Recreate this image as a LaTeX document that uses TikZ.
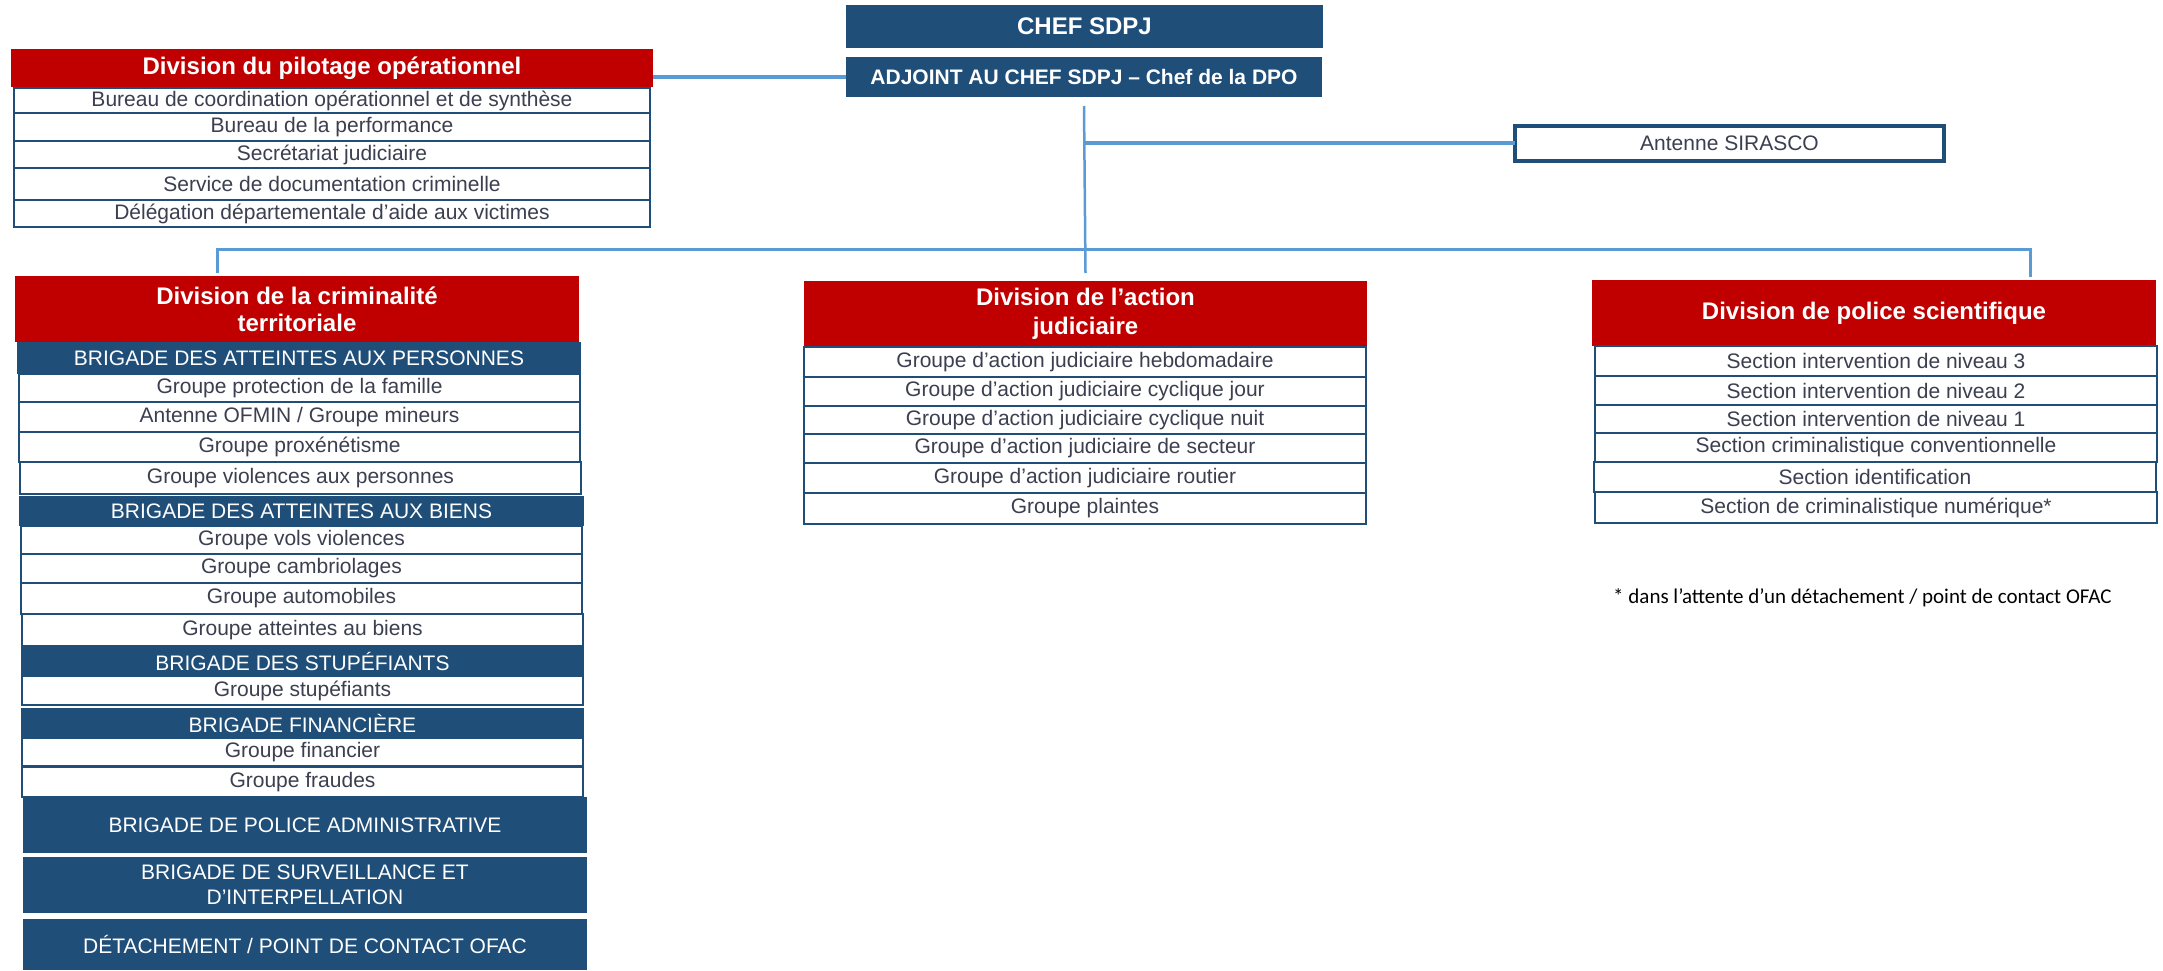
\documentclass[tikz,border=0pt]{standalone}
\usepackage{fontspec}
\setmainfont{Liberation Sans}
\newfontfamily\notefont{Carlito}
\usepackage{tikz}
\usetikzlibrary{positioning}

\definecolor{dpred}{RGB}{192,0,0}
\definecolor{dpblue}{RGB}{31,78,121}
\definecolor{linkblue}{RGB}{91,155,213}
\definecolor{rowtext}{RGB}{59,63,79}

\tikzset{
  box/.style={anchor=north west, inner sep=0pt, outer sep=0pt, align=center},
  redhead/.style={box, fill=dpred, text=white, font=\fontsize{24}{27}\selectfont\bfseries},
  bluehead/.style={box, fill=dpblue, text=white, font=\fontsize{21}{25}\selectfont},
  rowbox/.style={box, draw=dpblue, line width=1.8pt, fill=white, text=rowtext, font=\fontsize{21}{25}\selectfont},
  link/.style={draw=linkblue, line width=3pt},
  dctrow/.style={rowbox, minimum width=561pt},
  dajrow/.style={rowbox, minimum width=562pt},
  dpsrow/.style={rowbox, minimum width=562pt},
  dporow/.style={rowbox, minimum width=636pt}
}

\begin{document}
\begin{tikzpicture}[x=1pt,y=-1pt]
\useasboundingbox (0,0) rectangle (2163,971);

% direction
\node[bluehead, minimum width=477pt, minimum height=43pt, font=\fontsize{24}{27}\selectfont\bfseries] (chef) at (846,5) {CHEF SDPJ};
\node[bluehead, minimum width=476pt, minimum height=40pt, font=\fontsize{21}{25}\selectfont\bfseries] (adjoint) at (846,57) {ADJOINT AU CHEF SDPJ -- Chef de la DPO};
\node[rowbox, line width=3.5pt, minimum width=429pt, minimum height=35pt] (sirasco) at (1515,126) {Antenne SIRASCO};

% division du pilotage
\node[redhead, minimum width=642pt, minimum height=38pt] (dpo) at (11,49) {Division du pilotage opérationnel};
\node[dporow, minimum height=25pt] (dpo1) at (14,88) {Bureau de coordination opérationnel et de synthèse};
\node[dporow, minimum height=28pt] (dpo2) at (14,113) {Bureau de la performance};
\node[dporow, minimum height=27pt] (dpo3) at (14,141) {Secrétariat judiciaire};
\node[dporow, minimum height=32pt] (dpo4) at (14,168) {Service de documentation criminelle};
\node[dporow, minimum height=27pt] (dpo5) at (14,200) {Délégation départementale d’aide aux victimes};

% division de la criminalite territoriale
\node[redhead, minimum width=564pt, minimum height=66pt] (dct) at (15,276) {Division de la criminalité\\territoriale};
\node[bluehead, minimum width=564pt, minimum height=32pt] (bap) at (17,342) {BRIGADE DES ATTEINTES AUX PERSONNES};
\node[dctrow, minimum height=28pt] (bap1) at (19,374) {Groupe protection de la famille};
\node[dctrow, minimum height=30pt] (bap2) at (19,402) {Antenne OFMIN / Groupe mineurs};
\node[dctrow, minimum height=30pt] (bap3) at (19,432) {Groupe proxénétisme};
\node[dctrow, minimum height=32pt] (bap4) at (20,462) {Groupe violences aux personnes};
\node[bluehead, minimum width=565pt, minimum height=30pt] (bab) at (19,496) {BRIGADE DES ATTEINTES AUX BIENS};
\node[dctrow, minimum height=28pt] (bab1) at (21,526) {Groupe vols violences};
\node[dctrow, minimum height=29pt] (bab2) at (21,554) {Groupe cambriolages};
\node[dctrow, minimum height=31pt] (bab3) at (21,583) {Groupe automobiles};
\node[dctrow, minimum height=32pt] (bab4) at (22,614) {Groupe atteintes au biens};
\node[bluehead, minimum width=563pt, minimum height=30pt] (bds) at (21,646) {BRIGADE DES STUPÉFIANTS};
\node[dctrow, minimum height=29pt] (bds1) at (22,676) {Groupe stupéfiants};
\node[bluehead, minimum width=563pt, minimum height=30pt] (bf) at (21,708) {BRIGADE FINANCIÈRE};
\node[dctrow, minimum height=28pt] (bf1) at (22,738) {Groupe financier};
\node[dctrow, minimum height=30pt] (bf2) at (22,767) {Groupe fraudes};
\node[bluehead, minimum width=564pt, minimum height=56pt] (bpa) at (23,797) {BRIGADE DE POLICE ADMINISTRATIVE};
\node[bluehead, minimum width=564pt, minimum height=56pt] (bsi) at (23,857) {BRIGADE DE SURVEILLANCE ET\\D’INTERPELLATION};
\node[bluehead, minimum width=564pt, minimum height=51pt] (det) at (23,919) {DÉTACHEMENT / POINT DE CONTACT OFAC};

% division de l'action judiciaire
\node[redhead, minimum width=563pt, minimum height=65pt, font=\fontsize{24}{29}\selectfont\bfseries] (daj) at (804,281) {Division de l’action\\judiciaire};
\node[dajrow, minimum height=30pt] (daj1) at (804,347) {Groupe d’action judiciaire hebdomadaire};
\node[dajrow, minimum height=29pt] (daj2) at (804,377) {Groupe d’action judiciaire cyclique jour};
\node[dajrow, minimum height=28pt] (daj3) at (804,406) {Groupe d’action judiciaire cyclique nuit};
\node[dajrow, minimum height=29pt] (daj4) at (804,434) {Groupe d’action judiciaire de secteur};
\node[dajrow, minimum height=30pt] (daj5) at (804,463) {Groupe d’action judiciaire routier};
\node[dajrow, minimum height=31pt] (daj6) at (804,493) {Groupe plaintes};

% division de police scientifique
\node[redhead, minimum width=564pt, minimum height=66pt] (dps) at (1592,280) {Division de police scientifique};
\node[dpsrow, minimum height=30pt] (dps1) at (1595,346) {Section intervention de niveau 3};
\node[dpsrow, minimum height=29pt] (dps2) at (1595,376) {Section intervention de niveau 2};
\node[dpsrow, minimum height=28pt] (dps3) at (1595,405) {Section intervention de niveau 1};
\node[dpsrow, minimum height=29pt] (dps4) at (1595,433) {Section criminalistique conventionnelle};
\node[dpsrow, minimum height=30pt] (dps5) at (1594,462) {Section identification};
\node[dpsrow, minimum height=31pt] (dps6) at (1595,492) {Section de criminalistique numérique*};
\node[anchor=west, inner sep=0pt, font=\notefont\fontsize{21}{25}\selectfont] (note) at (1613,598) {* dans l’attente d’un détachement / point de contact OFAC};

% liaisons
\coordinate (busL) at (217,249);
\coordinate (busR) at (2030,249);
\draw[link, line width=4pt] (adjoint.west) -- (adjoint.west -| dpo.east);
\draw[link, line width=2.5pt] ([yshift=-9pt]adjoint.south) -- ([yshift=8pt]daj.north);
\draw[link, line width=4pt] (sirasco.west) -- (sirasco.west -| adjoint.south);
\draw[link] ([yshift=3pt]dct.north -| busL) -- (busL) -- (busR) -- ([yshift=3pt]busR |- dps.north);
\end{tikzpicture}
\end{document}
